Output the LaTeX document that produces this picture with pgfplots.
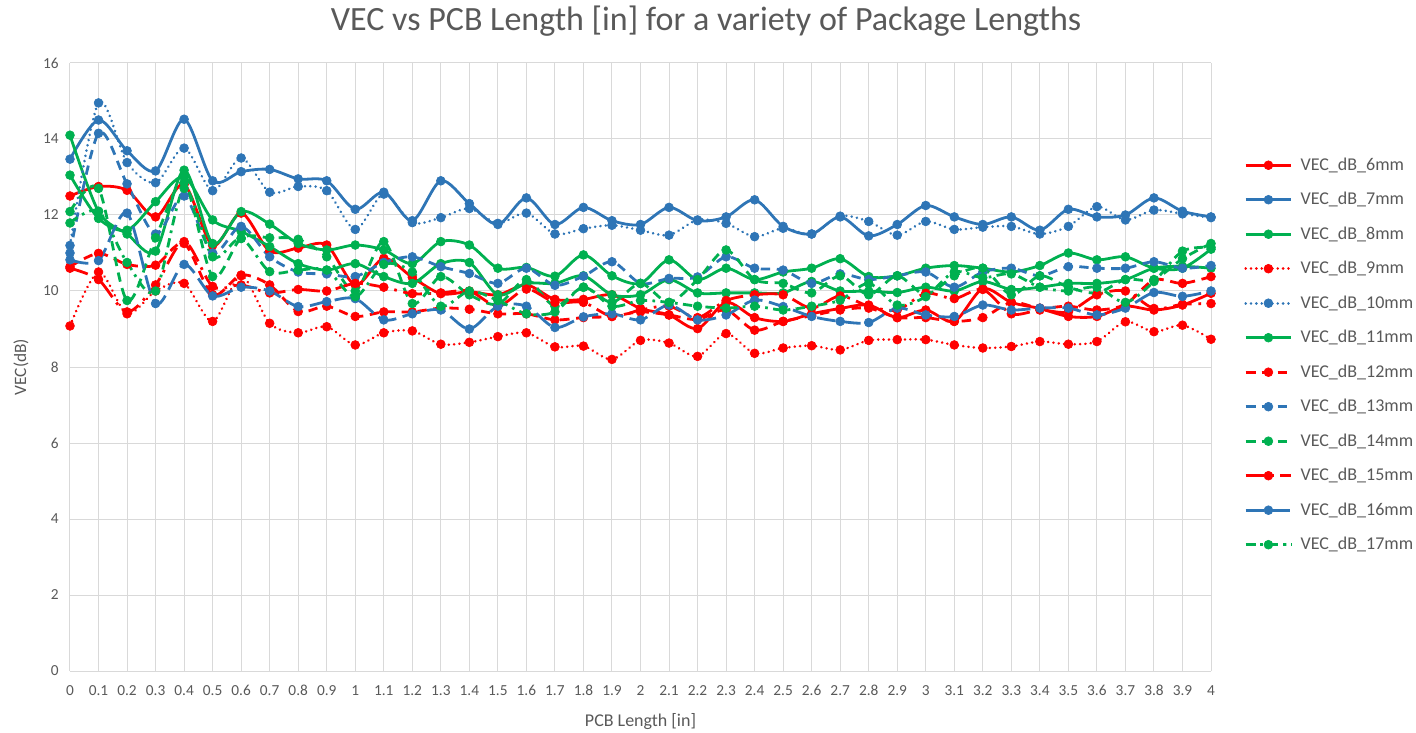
\documentclass[border=0pt]{standalone}
\usepackage{pgfplots}
\pgfplotsset{compat=1.18}
\usepackage{pgfplotstable}
\usepackage{fontspec}
\setmainfont{Carlito}
\definecolor{cred}{HTML}{FF0000}
\definecolor{cblue}{HTML}{2E75B6}
\definecolor{cgreen}{HTML}{00B050}
\definecolor{txt}{HTML}{595959}
\definecolor{grd}{HTML}{D9D9D9}

\pgfplotstableread{
x s6 s7 s8 s9 s10 s11 s12 s13 s14 s15 s16 s17
0.0 12.5 13.47 14.1 9.08 11.2 13.05 10.64 11.0 12.09 10.6 10.82 11.79
0.1 12.75 14.5 12.09 10.5 14.95 11.91 10.99 14.15 12.7 10.3 10.8 12.1
0.2 12.65 13.69 11.5 9.4 13.38 11.6 10.7 12.82 9.75 9.45 12.05 10.75
0.3 11.95 13.16 11.05 10.0 12.85 12.35 10.68 11.5 11.4 10.16 9.67 10.0
0.4 12.8 14.52 13.18 10.2 13.76 13.0 11.25 12.5 12.85 11.3 10.7 12.7
0.5 11.2 12.9 11.25 9.2 12.64 11.87 9.9 11.0 10.38 10.12 9.87 10.9
0.6 12.05 13.14 12.09 10.4 13.5 11.57 10.42 11.7 11.39 10.16 10.1 11.38
0.7 11.05 13.2 11.76 9.15 12.6 11.17 10.16 10.9 11.4 9.95 10.0 10.51
0.8 11.13 12.95 11.25 8.9 12.75 10.72 9.46 10.5 11.36 10.04 9.59 10.55
0.9 11.21 12.9 11.08 9.06 12.64 10.55 9.6 10.45 10.9 10.0 9.72 10.55
1.0 10.16 12.15 11.21 8.58 11.62 10.72 9.33 10.38 10.0 10.2 9.8 9.85
1.1 10.86 12.6 11.08 8.9 12.55 10.38 9.45 10.75 11.3 10.1 9.24 10.7
1.2 10.36 11.85 10.72 8.95 11.8 10.2 9.45 10.9 9.67 9.93 9.4 10.5
1.3 9.93 12.9 11.3 8.6 11.93 10.72 9.55 10.64 10.38 9.95 9.5 9.6
1.4 9.98 12.3 11.21 8.65 12.17 10.75 9.52 10.46 9.9 10.0 9.0 10.0
1.5 9.9 11.75 10.6 8.8 11.78 9.9 9.4 10.2 9.65 9.6 9.6 9.75
1.6 10.16 12.45 10.62 8.9 12.05 10.2 9.4 10.6 10.3 10.05 9.6 9.4
1.7 9.78 11.75 10.39 8.53 11.5 10.2 9.24 10.15 9.6 9.7 9.04 9.45
1.8 9.78 12.2 10.95 8.55 11.64 10.4 9.3 10.39 10.1 9.7 9.32 10.1
1.9 9.9 11.85 10.4 8.2 11.73 9.9 9.33 10.77 9.7 9.33 9.4 9.6
2.0 9.54 11.75 10.2 8.7 11.6 9.9 9.45 10.2 10.2 9.5 9.24 9.75
2.1 9.37 12.2 10.82 8.63 11.47 10.3 9.37 10.33 9.7 9.6 9.63 9.7
2.2 9.01 11.85 10.3 8.28 11.87 9.95 9.25 10.37 10.3 9.3 9.24 9.6
2.3 9.7 11.95 10.6 8.88 11.78 9.95 9.5 10.9 11.08 9.75 9.37 9.55
2.4 9.3 12.4 10.3 8.36 11.43 9.95 8.97 10.6 10.3 9.9 9.76 9.6
2.5 9.2 11.7 10.5 8.5 11.65 9.95 9.2 10.55 10.2 9.9 9.59 9.5
2.6 9.4 11.5 10.6 8.56 11.5 10.25 9.35 10.2 9.95 9.55 9.33 9.6
2.7 9.54 11.95 10.85 8.45 11.97 10.0 9.5 10.45 10.4 9.87 9.2 9.76
2.8 9.63 11.45 10.38 8.7 11.83 10.0 9.55 10.3 9.9 9.6 9.17 10.2
2.9 9.3 11.75 10.4 8.72 11.47 9.96 9.3 10.4 10.4 9.5 9.55 9.63
3.0 9.5 12.25 10.6 8.72 11.83 10.1 9.3 10.5 9.9 9.94 9.37 9.85
3.1 9.2 11.95 10.67 8.58 11.62 10.0 9.2 10.1 10.4 9.8 9.33 10.5
3.2 10.06 11.75 10.6 8.5 11.68 10.25 9.3 10.5 10.6 10.04 9.63 10.35
3.3 9.7 11.95 10.5 8.54 11.7 10.04 9.7 10.6 9.9 9.4 9.5 10.45
3.4 9.54 11.6 10.67 8.67 11.5 10.1 9.55 10.4 10.4 9.5 9.55 10.1
3.5 9.33 12.15 11.0 8.6 11.7 10.2 9.6 10.64 10.1 9.45 9.55 10.0
3.6 9.33 11.95 10.82 8.67 12.22 10.2 9.5 10.6 9.95 9.9 9.37 10.1
3.7 9.6 12.0 10.9 9.19 11.87 10.3 9.65 10.6 10.3 10.0 9.55 9.7
3.8 9.5 12.45 10.6 8.93 12.13 10.6 10.29 10.77 10.3 9.54 9.96 10.25
3.9 9.63 12.1 10.6 9.1 12.03 10.65 10.2 10.6 10.85 9.65 9.86 11.05
4.0 9.94 11.95 11.1 8.73 11.93 10.6 10.38 10.67 11.25 9.67 10.0 11.15
}\data

\pgfplotsset{
  ser/.style={color=#1, line width=2.1pt, mark=*, mark size=3.3pt,
    mark options={solid, fill=#1, draw=#1, line width=0.5pt}, smooth, tension=0.5},
  pdot/.style={dash pattern=on 0.01pt off 4pt, line cap=round},
  pdash/.style={dash pattern=on 7pt off 5pt},
  plddot/.style={dash pattern=on 14pt off 5pt on 2pt off 5pt},
  pldash/.style={dash pattern=on 14pt off 5pt},
  pdashdot/.style={dash pattern=on 7pt off 4pt on 2pt off 4pt},
}

\begin{document}
\begin{tikzpicture}
\begin{axis}[
  at={(0,0)}, anchor=south west,
  width=855.75pt, height=456pt, scale only axis,
  xmin=0, xmax=4, ymin=0, ymax=16,
  ytick={0,2,4,6,8,10,12,14,16},
  xtick={0,0.1,0.2,0.3,0.4,0.5,0.6,0.7,0.8,0.9,1,1.1,1.2,1.3,1.4,1.5,1.6,1.7,1.8,1.9,2,2.1,2.2,2.3,2.4,2.5,2.6,2.7,2.8,2.9,3,3.1,3.2,3.3,3.4,3.5,3.6,3.7,3.8,3.9,4},
  xticklabels={0,0.1,0.2,0.3,0.4,0.5,0.6,0.7,0.8,0.9,1,1.1,1.2,1.3,1.4,1.5,1.6,1.7,1.8,1.9,2,2.1,2.2,2.3,2.4,2.5,2.6,2.7,2.8,2.9,3,3.1,3.2,3.3,3.4,3.5,3.6,3.7,3.8,3.9,4},
  grid=major, major grid style={grd, line width=0.75pt},
  axis line style={draw=none},
  tick style={draw=none},
  /pgf/number format/assume math mode=true,
  tick label style={font=\fontsize{11.5}{13}\selectfont, text=txt},
  yticklabel style={xshift=-5pt},
  xticklabel style={yshift=-7pt, text height=8pt, text depth=0pt},
  title={VEC vs PCB Length [in] for a variety of Package Lengths},
  title style={at={(axis description cs:0.5574,1.055)}, anchor=center, font=\fontsize{25.5}{30}\selectfont, text=txt},
  xlabel={PCB Length [in]},
  xlabel style={at={(axis description cs:0.5,-0.083)}, anchor=center, font=\fontsize{13.5}{16}\selectfont, text=txt},
  ylabel={VEC(dB)},
  ylabel style={at={(axis description cs:-0.043,0.5)}, anchor=center, font=\fontsize{13}{16}\selectfont, text=txt},
  legend style={at={(axis description cs:1.0254,0.853)}, anchor=north west, draw=none, fill=none,
    font=\fontsize{13.5}{16}\selectfont, text=txt, row sep=11pt,
    /tikz/every odd column/.append style={column sep=4pt}},
  legend cell align=left,
  legend image code/.code={\draw[mark repeat=2,mark phase=2,#1] plot coordinates {(0cm,0cm) (0.6cm,0cm) (1.2cm,0cm)};},
]
\addplot[ser=cred] table[x=x,y=s6] {\data};
\addlegendentry{VEC\_dB\_6mm}
\addplot[ser=cblue] table[x=x,y=s7] {\data};
\addlegendentry{VEC\_dB\_7mm}
\addplot[ser=cgreen] table[x=x,y=s8] {\data};
\addlegendentry{VEC\_dB\_8mm}
\addplot[ser=cred, pdot] table[x=x,y=s9] {\data};
\addlegendentry{VEC\_dB\_9mm}
\addplot[ser=cblue, pdot] table[x=x,y=s10] {\data};
\addlegendentry{VEC\_dB\_10mm}
\addplot[ser=cgreen] table[x=x,y=s11] {\data};
\addlegendentry{VEC\_dB\_11mm}
\addplot[ser=cred, pdash] table[x=x,y=s12] {\data};
\addlegendentry{VEC\_dB\_12mm}
\addplot[ser=cblue, pdash] table[x=x,y=s13] {\data};
\addlegendentry{VEC\_dB\_13mm}
\addplot[ser=cgreen, pdash] table[x=x,y=s14] {\data};
\addlegendentry{VEC\_dB\_14mm}
\addplot[ser=cred, plddot] table[x=x,y=s15] {\data};
\addlegendentry{VEC\_dB\_15mm}
\addplot[ser=cblue, pldash] table[x=x,y=s16] {\data};
\addlegendentry{VEC\_dB\_16mm}
\addplot[ser=cgreen, pdashdot] table[x=x,y=s17] {\data};
\addlegendentry{VEC\_dB\_17mm}
\end{axis}
\pgfresetboundingbox
\useasboundingbox (-52.5pt,-45.75pt) rectangle (1009.5pt,503.25pt);
\end{tikzpicture}
\end{document}
